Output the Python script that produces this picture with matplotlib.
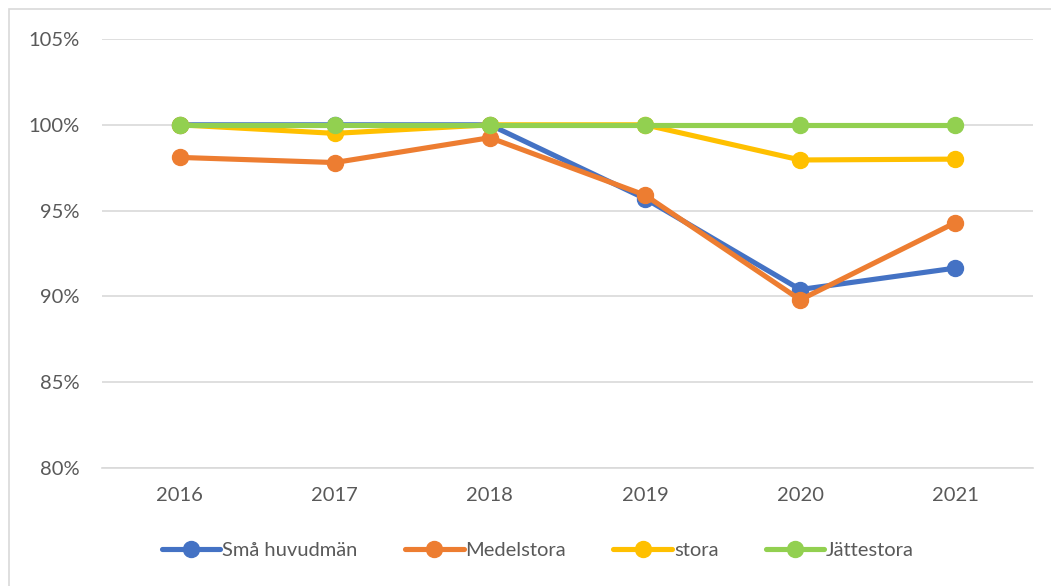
import matplotlib.pyplot as plt
from matplotlib.patches import Rectangle
from matplotlib.ticker import FuncFormatter

plt.rcParams['font.family'] = ['Lato', 'DejaVu Sans']

years = ['2016', '2017', '2018', '2019', '2020', '2021']
sma = [100, 100, 100, 95.7, 90.4, 91.65]
medel = [98.1, 97.8, 99.25, 95.9, 89.8, 94.3]
stora = [100, 99.5, 100, 100, 97.95, 98.0]
jatte = [100, 100, 100, 100, 100, 100]

series = [
    ('Små huvudmän', sma, '#4472C4'),
    ('Medelstora', medel, '#ED7D31'),
    ('stora', stora, '#FFC000'),
    ('Jättestora', jatte, '#92D050'),
]

fig = plt.figure(figsize=(10.51, 5.86), dpi=100)
W, H = 1051, 586
ax = fig.add_axes([102 / W, 1 - 468 / H, (1033 - 102) / W, (468 - 39) / H])

# ram runt diagrammet
fig.patches.append(Rectangle((9 / W, -0.1), 1.2, 1 - 9 / H + 0.1,
                             transform=fig.transFigure, fill=False,
                             edgecolor='#D9D9D9', linewidth=1.2))

x = range(len(years))
for name, vals, col in series:
    ax.plot(x, vals, color=col, linewidth=3.7, marker='o', markersize=11.5,
            label=name, solid_capstyle='round')

ax.set_xlim(-0.5, len(years) - 0.5)
ax.set_ylim(80, 105)
ax.set_yticks([80, 85, 90, 95, 100, 105])
ax.yaxis.set_major_formatter(FuncFormatter(lambda v, p: f'{v:.0f}%'))
ax.set_xticks(list(x))
ax.set_xticklabels(years)
ax.grid(axis='y', color='#D9D9D9', linewidth=1.2)
ax.set_axisbelow(True)
for s in ['top', 'right', 'left']:
    ax.spines[s].set_visible(False)
ax.spines['bottom'].set_color('#D9D9D9')
ax.spines['bottom'].set_linewidth(1.2)
ax.tick_params(axis='both', length=0, labelsize=14.5, colors='#595959')
ax.tick_params(axis='y', pad=16)
ax.tick_params(axis='x', pad=14)

leg = ax.legend(loc='center', bbox_to_anchor=(538 / W, 1 - 550 / H),
                bbox_transform=fig.transFigure, ncol=4, frameon=False,
                fontsize=14.5, handlelength=2.9, columnspacing=2.35,
                handletextpad=0.1)
for t in leg.get_texts():
    t.set_color('#595959')

fig.savefig('out.png', dpi=100)
